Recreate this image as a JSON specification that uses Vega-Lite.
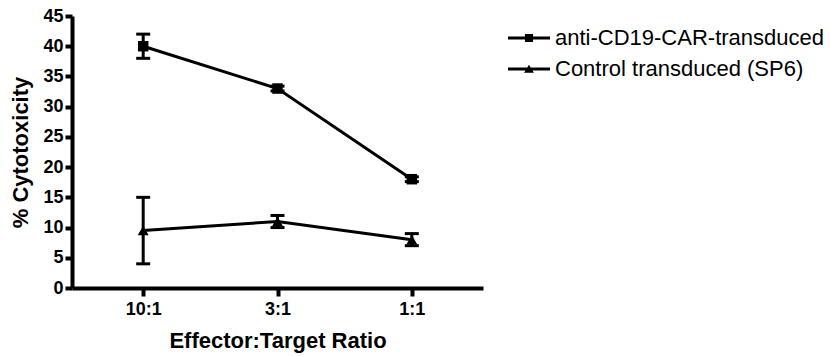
{
  "$schema": "https://vega.github.io/schema/vega-lite/v6.json",
  "autosize": "none",
  "width": 411,
  "height": 272,
  "padding": {"left": 72, "top": 16, "right": 347, "bottom": 68},
  "background": "white",
  "config": {
    "view": {"stroke": null},
    "font": "Liberation Sans",
    "axis": {
      "domainColor": "black", "domainWidth": 4, "tickColor": "black", "tickWidth": 4,
      "tickSize": 8, "labelColor": "black", "labelFont": "Liberation Sans", "labelFontWeight": "bold",
      "labelFontSize": 18, "titleFont": "Liberation Sans", "titleFontWeight": "bold",
      "titleFontSize": 22, "titleColor": "black", "grid": false
    }
  },
  "data": {"values": [
    {"ratio": "10:1", "series": "anti-CD19-CAR-transduced", "mean": 40, "lo": 38, "hi": 42},
    {"ratio": "3:1", "series": "anti-CD19-CAR-transduced", "mean": 33, "lo": 32.6, "hi": 33.4},
    {"ratio": "1:1", "series": "anti-CD19-CAR-transduced", "mean": 18, "lo": 17.6, "hi": 18.4},
    {"ratio": "10:1", "series": "Control transduced (SP6)", "mean": 9.5, "lo": 4, "hi": 15},
    {"ratio": "3:1", "series": "Control transduced (SP6)", "mean": 11, "lo": 10, "hi": 12},
    {"ratio": "1:1", "series": "Control transduced (SP6)", "mean": 8, "lo": 7, "hi": 9}
  ]},
  "encoding": {
    "x": {"field": "ratio", "type": "ordinal", "sort": ["10:1", "3:1", "1:1"],
      "scale": {"type": "point", "padding": 0.53},
      "axis": {"title": "Effector:Target Ratio", "labelAngle": 0, "labelPadding": 4, "titlePadding": 12,
        "domainColor": "black", "domainWidth": 4, "tickColor": "black", "tickWidth": 4, "tickSize": 8}},
    "y": {"field": "mean", "type": "quantitative",
      "scale": {"domain": [0, 45], "nice": false},
      "axis": {"title": "% Cytotoxicity", "values": [0,5,10,15,20,25,30,35,40,45], "tickSize": 7, "labelPadding": 2, "titlePadding": 10,
        "domainColor": "black", "domainWidth": 4, "tickColor": "black", "tickWidth": 4}}
  },
  "layer": [
    {
      "mark": {"type": "rule", "strokeWidth": 3, "color": "black"},
      "encoding": {
        "y": {"field": "lo", "type": "quantitative"},
        "y2": {"field": "hi"}
      }
    },
    {
      "mark": {"type": "tick", "thickness": 3, "size": 14, "color": "black", "opacity": 1, "orient": "horizontal"},
      "encoding": {"y": {"field": "lo", "type": "quantitative"}}
    },
    {
      "mark": {"type": "tick", "thickness": 3, "size": 14, "color": "black", "opacity": 1, "orient": "horizontal"},
      "encoding": {"y": {"field": "hi", "type": "quantitative"}}
    },
    {
      "mark": {"type": "line", "strokeWidth": 3, "color": "black"},
      "encoding": {"detail": {"field": "series"}}
    },
    {
      "transform": [{"filter": "datum.series === 'anti-CD19-CAR-transduced'"}],
      "mark": {"type": "point", "shape": "square", "filled": true, "opacity": 1, "color": "black", "size": 110}
    },
    {
      "transform": [{"filter": "datum.series === 'Control transduced (SP6)'"}],
      "mark": {"type": "point", "shape": "triangle-up", "filled": true, "opacity": 1, "color": "black", "size": 120}
    },
    {
      "mark": {"type": "point", "filled": true, "opacity": 0, "color": "black", "size": 900},
      "encoding": {
        "shape": {"field": "series", "type": "nominal",
          "sort": ["anti-CD19-CAR-transduced", "Control transduced (SP6)"],
          "scale": {"range": ["M-1.4,-0.1H1.4V0.1H-1.4Z M-0.27,-0.27H0.27V0.27H-0.27Z", "M-1.4,-0.1H1.4V0.1H-1.4Z M0,-0.28L0.33,0.25H-0.33Z"]},
          "legend": {
            "title": null, "orient": "right", "offset": 24, "padding": 7,
            "symbolSize": 900, "symbolFillColor": "black", "symbolStrokeWidth": 0, "symbolOpacity": 1,
            "labelFont": "Liberation Sans", "labelFontSize": 22, "labelColor": "black",
            "labelOffset": 11, "rowPadding": 5, "labelLimit": 400
          }}
      }
    }
  ]
}
